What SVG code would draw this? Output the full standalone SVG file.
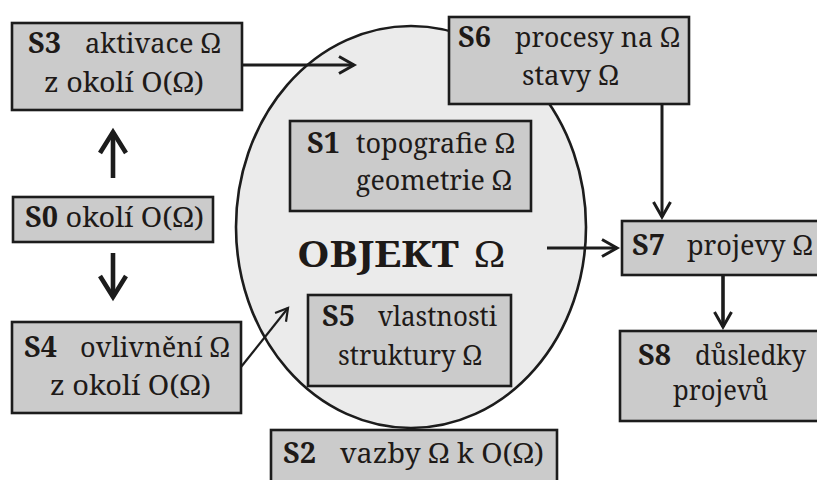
<svg xmlns="http://www.w3.org/2000/svg" width="817" height="480" viewBox="0 0 817 480">
  <style>
    .box { fill: #cbcbcb; stroke: #1c1c1c; stroke-width: 2.6; }
    .obj { fill: #ebebeb; stroke: #1c1c1c; stroke-width: 2.6; }
    text { font-family: "Noto Serif", "Liberation Serif", serif; font-size: 28px; fill: #1e1a18; }
    .b { font-weight: bold; }
    .big { font-size: 37px; }
    .edge { fill: none; stroke: #1c1c1c; stroke-width: 3; }
    .thin { stroke-width: 2.2; }
    .mid { stroke-width: 3.6; }
    .heavy { stroke-width: 4.6; }
  </style>
  <defs>
    <marker id="head" markerUnits="userSpaceOnUse" markerWidth="30" markerHeight="30" viewBox="-20 -15 25 30" refX="0" refY="0" orient="auto" overflow="visible">
      <path d="M -15 -8.5 L 0 0 L -15 8.5" fill="none" stroke="#1c1c1c" stroke-width="3"/>
    </marker>
    <marker id="head-thin" markerUnits="userSpaceOnUse" markerWidth="30" markerHeight="30" viewBox="-20 -15 25 30" refX="0" refY="0" orient="auto" overflow="visible">
      <path d="M -12 -7 L 0 0 L -12 7" fill="none" stroke="#1c1c1c" stroke-width="2.2"/>
    </marker>
    <marker id="head-heavy" markerUnits="userSpaceOnUse" markerWidth="40" markerHeight="40" viewBox="-30 -20 35 40" refX="0" refY="0" orient="auto" overflow="visible">
      <path d="M -21 -13 L 0 0 L -21 13" fill="none" stroke="#1c1c1c" stroke-width="4.6"/>
    </marker>
  </defs>

  <!-- the object itself -->
  <g id="objekt">
    <ellipse class="obj" cx="411" cy="227" rx="175" ry="201"/>
    <text class="big b" x="297" y="267" textLength="162" lengthAdjust="spacingAndGlyphs">OBJEKT</text>
    <text class="big" x="474" y="267" textLength="31" lengthAdjust="spacingAndGlyphs">Ω</text>
  </g>

  <g id="s1">
    <rect class="box" x="290" y="121" width="241" height="90"/>
    <text class="b" x="307" y="153" textLength="33" lengthAdjust="spacingAndGlyphs">S1</text>
    <text x="356" y="153" textLength="159" lengthAdjust="spacingAndGlyphs">topografie Ω</text>
    <text x="356" y="190" textLength="156" lengthAdjust="spacingAndGlyphs">geometrie Ω</text>
  </g>

  <g id="s5">
    <rect class="box" x="308" y="295" width="203" height="91"/>
    <text class="b" x="322" y="326" textLength="33" lengthAdjust="spacingAndGlyphs">S5</text>
    <text x="378" y="326" textLength="119" lengthAdjust="spacingAndGlyphs">vlastnosti</text>
    <text x="338" y="365" textLength="144" lengthAdjust="spacingAndGlyphs">struktury Ω</text>
  </g>

  <g id="s3">
    <rect class="box" x="12" y="23" width="230" height="87"/>
    <text class="b" x="28" y="53" textLength="33" lengthAdjust="spacingAndGlyphs">S3</text>
    <text x="85" y="53" textLength="136" lengthAdjust="spacingAndGlyphs">aktivace Ω</text>
    <text x="44" y="92" textLength="160" lengthAdjust="spacingAndGlyphs">z okolí O(Ω)</text>
  </g>

  <g id="s0">
    <rect class="box" x="13" y="197" width="200" height="45"/>
    <text class="b" x="25" y="227" textLength="33" lengthAdjust="spacingAndGlyphs">S0</text>
    <text x="65.5" y="227" textLength="138.5" lengthAdjust="spacingAndGlyphs">okolí O(Ω)</text>
  </g>

  <g id="s4">
    <rect class="box" x="12" y="322" width="229" height="91"/>
    <text class="b" x="24" y="357" textLength="33" lengthAdjust="spacingAndGlyphs">S4</text>
    <text x="80" y="357" textLength="150" lengthAdjust="spacingAndGlyphs">ovlivnění Ω</text>
    <text x="50" y="395" textLength="161" lengthAdjust="spacingAndGlyphs">z okolí O(Ω)</text>
  </g>

  <g id="s2">
    <rect class="box" x="271" y="430" width="286" height="60"/>
    <text class="b" x="283" y="463" textLength="33" lengthAdjust="spacingAndGlyphs">S2</text>
    <text x="340" y="463" textLength="204" lengthAdjust="spacingAndGlyphs">vazby Ω k O(Ω)</text>
  </g>

  <g id="s6">
    <rect class="box" x="449" y="17" width="240" height="87"/>
    <text class="b" x="458" y="47" textLength="33" lengthAdjust="spacingAndGlyphs">S6</text>
    <text x="515" y="47" textLength="165" lengthAdjust="spacingAndGlyphs">procesy na Ω</text>
    <text x="522" y="85" textLength="97" lengthAdjust="spacingAndGlyphs">stavy Ω</text>
  </g>

  <g id="s7">
    <rect class="box" x="622" y="221" width="205" height="54"/>
    <text class="b" x="632" y="255" textLength="33" lengthAdjust="spacingAndGlyphs">S7</text>
    <text x="687" y="255" textLength="126" lengthAdjust="spacingAndGlyphs">projevy Ω</text>
  </g>

  <g id="s8">
    <rect class="box" x="620" y="331" width="207" height="90"/>
    <text class="b" x="638" y="365" textLength="33" lengthAdjust="spacingAndGlyphs">S8</text>
    <text x="695" y="365" textLength="111" lengthAdjust="spacingAndGlyphs">důsledky</text>
    <text x="673" y="400" textLength="95" lengthAdjust="spacingAndGlyphs">projevů</text>
  </g>

  <!-- connectors -->
  <g id="connectors">
    <line class="edge heavy" x1="113" y1="178" x2="113" y2="132" marker-end="url(#head-heavy)"/>
    <line class="edge heavy" x1="113" y1="253" x2="113" y2="297" marker-end="url(#head-heavy)"/>
    <line class="edge" x1="242" y1="65" x2="354" y2="65" marker-end="url(#head)"/>
    <line class="edge thin" x1="241" y1="367" x2="288" y2="308" marker-end="url(#head-thin)"/>
    <line class="edge" x1="662" y1="104" x2="662" y2="217" marker-end="url(#head)"/>
    <line class="edge" x1="547" y1="248" x2="617" y2="248" marker-end="url(#head)"/>
    <line class="edge mid" x1="723" y1="275" x2="723" y2="327" marker-end="url(#head)"/>
  </g>
</svg>
